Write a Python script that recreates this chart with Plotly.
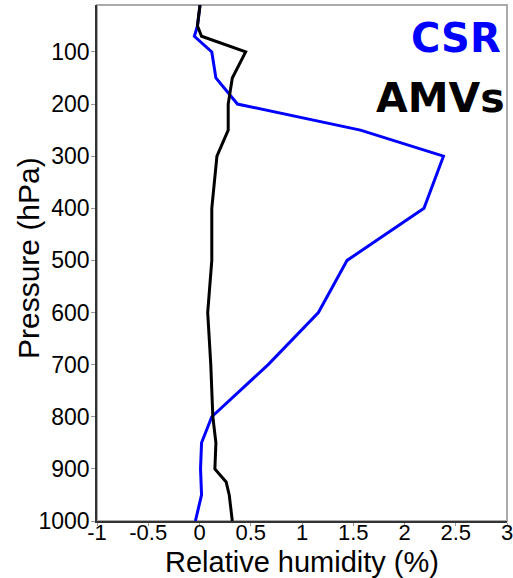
import plotly.graph_objects as go

pressure_csr = [10, 20, 30, 50, 70, 100, 150, 200, 250, 300, 400, 500, 600, 700, 800, 850, 900, 950, 1000]
rh_csr = [0.005, 0.0, -0.005, -0.02, -0.05, 0.12, 0.16, 0.37, 1.57, 2.38, 2.19, 1.44, 1.16, 0.67, 0.12, 0.02, 0.01, 0.02, -0.04]

pressure_amv = [10, 20, 30, 50, 70, 100, 150, 200, 250, 300, 400, 500, 600, 700, 800, 850, 900, 925, 950, 1000]
rh_amv = [0.005, 0.0, -0.005, -0.02, 0.02, 0.45, 0.32, 0.28, 0.28, 0.17, 0.12, 0.12, 0.08, 0.11, 0.13, 0.16, 0.15, 0.26, 0.29, 0.32]

x_ticks = [-1, -0.5, 0, 0.5, 1, 1.5, 2, 2.5, 3]
y_ticks = [100, 200, 300, 400, 500, 600, 700, 800, 900, 1000]

fig = go.Figure()
fig.add_trace(go.Scatter(x=rh_csr, y=pressure_csr, mode="lines",
                         line=dict(color="#0000ff", width=3), name="CSR"))
fig.add_trace(go.Scatter(x=rh_amv, y=pressure_amv, mode="lines",
                         line=dict(color="#000000", width=3), name="AMVs"))

font_main = "Liberation Sans, Arial, sans-serif"
fig.update_layout(
    width=513, height=578,
    margin=dict(l=97, r=6, t=5, b=57),
    paper_bgcolor="white", plot_bgcolor="white",
    showlegend=False,
    font=dict(family=font_main, color="black"),
    xaxis=dict(range=[-1, 3], tickvals=x_ticks,
               ticktext=[("%g" % v) for v in x_ticks],
               showgrid=False, zeroline=False, automargin=False,
               ticklabeloverflow="allow", ticklabelstandoff=-12,
               showline=True, linecolor="#333333", linewidth=1.5,
               ticks="outside", ticklen=3, tickcolor="#999999",
               tickfont=dict(size=22)),
    yaxis=dict(range=[1000, 10], tickvals=y_ticks,
               showgrid=False, zeroline=False, automargin=False,
               ticklabeloverflow="allow", ticklabelstandoff=-3,
               showline=True, linecolor="#333333", linewidth=1.5,
               ticks="outside", ticklen=4, tickcolor="#999999",
               tickfont=dict(size=23)),
    shapes=[dict(type="rect", xref="paper", yref="paper", x0=0, x1=1, y0=0, y1=1,
                 line=dict(color="#aaaaaa", width=2), layer="below")],
    annotations=[
        dict(text="Relative humidity (%)", xref="paper", yref="paper",
             x=(302 - 97) / 410, y=-(562 - 521) / 516,
             xanchor="center", yanchor="middle", showarrow=False,
             font=dict(size=29, family=font_main)),
        dict(text="Pressure (hPa)", xref="paper", yref="paper",
             x=-(97 - 28) / 410, y=(521 - 258) / 516, textangle=-90,
             xanchor="center", yanchor="middle", showarrow=False,
             font=dict(size=30, family=font_main)),
        dict(text="<b>CSR</b>", xref="paper", yref="paper", x=0.99, y=0.985,
             xanchor="right", yanchor="top", showarrow=False,
             font=dict(size=40, color="#0000ff", family="Comic Sans MS, DejaVu Sans, sans-serif")),
        dict(text="<b>AMVs</b>", xref="paper", yref="paper", x=1.0, y=0.87,
             xanchor="right", yanchor="top", showarrow=False,
             font=dict(size=41, color="black", family="Comic Sans MS, DejaVu Sans, sans-serif")),
    ],
)

fig.write_html("out.html")
